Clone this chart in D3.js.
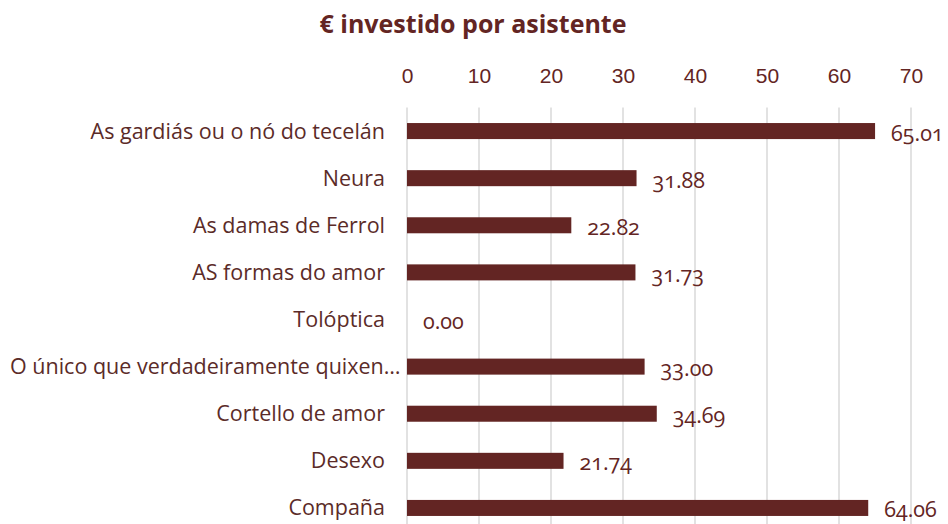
<!DOCTYPE html>
<html>
<head>
<meta charset="utf-8">
<script src="https://cdn.jsdelivr.net/npm/d3@7"></script>
<style>
  body { margin: 0; background: #fff; }
  svg { display: block; font-family: "Open Sans", "Noto Sans", sans-serif; }
  text { font-variant-numeric: oldstyle-nums; }
</style>
</head>
<body>
<div id="chart"></div>
<script>
// Datos: € investido por asistente
const categories = [
  "As gardiás ou o nó do tecelán",
  "Neura",
  "As damas de Ferrol",
  "AS formas do amor",
  "Tolóptica",
  "O único que verdadeiramente quixen…",
  "Cortello de amor",
  "Desexo",
  "Compaña"
]
const values = [65.01, 31.88, 22.82, 31.73, 0.00, 33.00, 34.69, 21.74, 64.06]
const tickValues = [0, 10, 20, 30, 40, 50, 60, 70]

const W = 948, H = 524
const margin = { top: 107.5, left: 407, right: 37 }
const plotH = 424

const svg = d3.select("#chart").append("svg")
  .attr("width", W)
  .attr("height", H)

// Título
svg.append("text")
  .attr("x", 473)
  .attr("y", 33)
  .attr("text-anchor", "middle")
  .attr("font-size", 25)
  .attr("font-weight", "bold")
  .attr("fill", "#632523")
  .text("€ investido por asistente")

const x = d3.scaleLinear()
  .domain([0, 70])
  .range([margin.left, W - margin.right])

const y = d3.scaleBand()
  .domain(categories)
  .range([margin.top, margin.top + plotH])
  .paddingInner(0.66)
  .paddingOuter(0.33)

// Liñas de grella
svg.append("g")
  .selectAll("line")
  .data(tickValues)
  .join("line")
  .attr("x1", d => x(d))
  .attr("x2", d => x(d))
  .attr("y1", margin.top)
  .attr("y2", H)
  .attr("stroke", "#d9d9d9")
  .attr("stroke-width", 1.5)

// Eixo superior
const axis = svg.append("g")
  .attr("transform", `translate(0,${margin.top})`)
  .call(d3.axisTop(x).tickValues(tickValues).tickSize(0).tickPadding(25))
axis.select(".domain").remove()
axis.selectAll("text")
  .attr("font-size", 21)
  .attr("fill", "#632523")
  .style("font-family", "inherit")

// Barras
svg.append("g")
  .selectAll("rect")
  .data(values)
  .join("rect")
  .attr("x", x(0))
  .attr("y", (d, i) => y(categories[i]))
  .attr("width", d => x(d) - x(0))
  .attr("height", y.bandwidth())
  .attr("fill", "#632523")

// Etiquetas de categoría
svg.append("g")
  .selectAll("text")
  .data(categories)
  .join("text")
  .attr("x", x(0) - 22)
  .attr("y", d => y(d) + y.bandwidth() / 2)
  .attr("dy", "0.35em")
  .attr("text-anchor", "end")
  .attr("font-size", 21.5)
  .attr("fill", "#5b2b28")
  .text(d => d)
  .each(function () {
    // as etiquetas longas desbórdanse cara á dereita
    const b = this.getBBox()
    if (b.x < 10) d3.select(this).attr("x", x(0) - 22 + (10 - b.x))
  })

// Etiquetas de valor
svg.append("g")
  .selectAll("text")
  .data(values)
  .join("text")
  .attr("x", d => x(d) + 16)
  .attr("y", (d, i) => y(categories[i]) + y.bandwidth() / 2 + 2)
  .attr("dy", "0.35em")
  .attr("font-size", 21.5)
  .attr("fill", "#632523")
  .text(d => d3.format(".2f")(d))
</script>
</body>
</html>
